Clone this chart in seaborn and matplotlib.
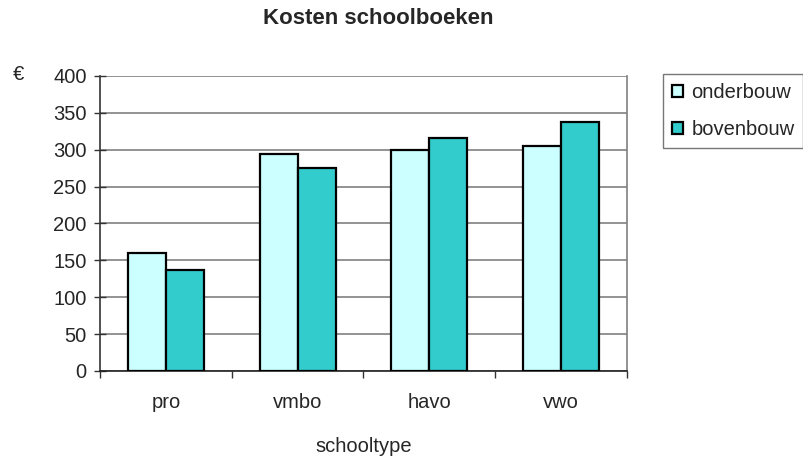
import seaborn as sns
import matplotlib.pyplot as plt
import pandas as pd

# data
schooltypes = ["pro", "vmbo", "havo", "vwo"]
onderbouw = [160, 294, 300, 305]
bovenbouw = [137, 275, 316, 337]
series = ["onderbouw", "bovenbouw"]
kleuren = ["#CCFFFF", "#33CCCC"]
yticks = [0, 50, 100, 150, 200, 250, 300, 350, 400]

sns.set_theme(style="white")
plt.rcParams['font.family'] = ['Liberation Sans', 'DejaVu Sans']

df = pd.DataFrame({
    "schooltype": schooltypes * 2,
    "serie": [series[0]] * 4 + [series[1]] * 4,
    "kosten": onderbouw + bovenbouw,
})

fs = 14.5

fig = plt.figure(figsize=(8.04, 4.57), dpi=100)
ax = fig.add_axes([100 / 804, 1 - 371 / 457, 527 / 804, 295 / 457])

sns.barplot(data=df, x="schooltype", y="kosten", hue="serie",
            palette=kleuren, width=0.575, edgecolor="black", linewidth=1.6,
            saturation=1, ax=ax, zorder=3)

ax.set_ylim(0, 400)
ax.set_xlim(-0.5, 3.5)
ax.set_yticks(yticks)
ax.yaxis.grid(True, color="#808080", linewidth=1.2, zorder=0)
ax.set_axisbelow(True)

ax.spines["top"].set_visible(False)
ax.spines["right"].set_color("#808080")
ax.spines["left"].set_color("#333333")
ax.spines["bottom"].set_color("#222222")
for s in ax.spines.values():
    s.set_linewidth(1.2)

ax.tick_params(axis="y", direction="inout", length=9, width=1, color="#333333",
               labelsize=fs, pad=5, left=True)
ax.set_xticks(range(4))
ax.set_xticklabels(schooltypes)
ax.set_xticks([-0.5, 0.5, 1.5, 2.5, 3.5], minor=True)
ax.tick_params(axis="x", which="major", length=0, labelsize=fs, pad=16)
ax.tick_params(axis="x", which="minor", direction="out", length=5, width=1,
               color="#333333", bottom=True)

ax.set_xlabel("schooltype", fontsize=fs, labelpad=18)
ax.set_ylabel("")

fig.text(18 / 804, 1 - 75 / 457, "€", fontsize=fs, ha="center", va="center")
fig.text(378 / 804, 1 - 18 / 457, "Kosten schoolboeken", fontsize=16,
         fontweight="bold", ha="center", va="center")

handles, labels = ax.get_legend_handles_labels()
leg = ax.legend(handles, labels, loc="upper left",
                bbox_to_anchor=(663 / 804, 1 - 74 / 457),
                bbox_transform=fig.transFigure, frameon=True, fancybox=False,
                edgecolor="#555555", fontsize=fs, handlelength=0.55,
                handleheight=0.6, handletextpad=0.4, labelspacing=0.9,
                borderpad=0.45, borderaxespad=0)
leg.get_frame().set_linewidth(1.0)
for h in leg.legend_handles:
    h.set_linewidth(1.6)

fig.savefig("out.png", dpi=100)
